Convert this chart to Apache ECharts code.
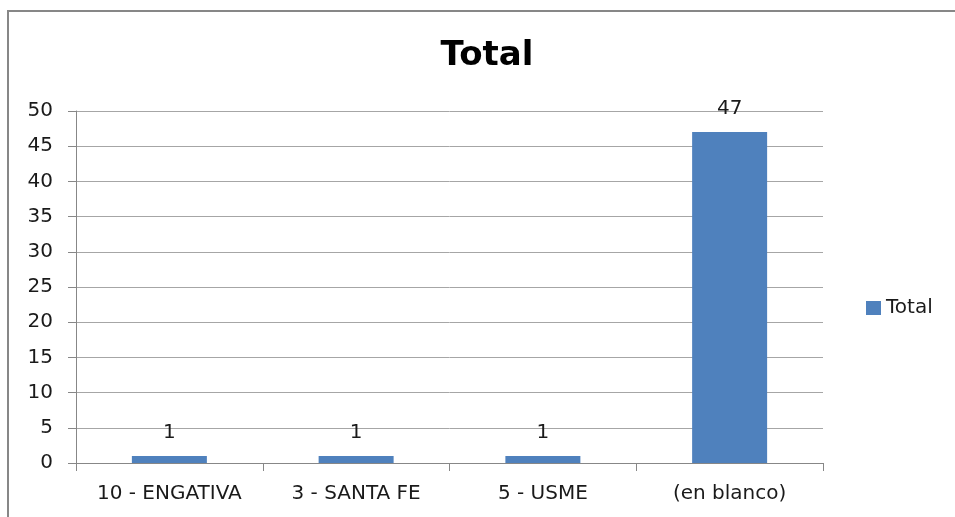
<!DOCTYPE html>
<html>
<head>
<meta charset="utf-8">
<script src="https://cdn.jsdelivr.net/npm/echarts@6/dist/echarts.min.js"></script>
<style>
html,body{margin:0;padding:0;background:#fff;}
#c{width:955px;height:517px;}
</style>
</head>
<body>
<div id="c"></div>
<script>
var categories = ['10 - ENGATIVA', '3 - SANTA FE', '5 - USME', '(en blanco)'];
var totalValues = [1, 1, 1, 47];
var yTicks = { min: 0, max: 50, interval: 5 };
var seriesName = 'Total';
var titleText = 'Total';

var chart = echarts.init(document.getElementById('c'));
var font = 'DejaVu Sans';
chart.setOption({
  animation: false,
  backgroundColor: '#fff',
  graphic: [{
    type: 'rect',
    shape: { x: 8, y: 11, width: 1000, height: 600 },
    style: { fill: 'none', stroke: '#878787', lineWidth: 2 },
    silent: true
  }],
  title: {
    text: titleText,
    left: 482,
    textAlign: 'center',
    top: 34,
    textStyle: { fontFamily: font, fontWeight: 'bold', fontSize: 34, color: '#000' }
  },
  legend: {
    data: [seriesName],
    orient: 'vertical',
    left: 861,
    top: 293,
    icon: 'rect',
    itemWidth: 15,
    itemHeight: 14,
    itemGap: 6,
    textStyle: { fontFamily: font, fontSize: 20, color: '#1a1a1a' }
  },
  grid: { left: 76, right: 132, top: 111, bottom: 54, containLabel: false },
  xAxis: {
    type: 'category',
    data: categories,
    boundaryGap: true,
    axisLine: { show: true, lineStyle: { color: '#878787', width: 1 } },
    axisTick: { show: true, length: 8, interval: 0, alignWithLabel: false, lineStyle: { color: '#878787' } },
    axisLabel: { interval: 0, margin: 21, fontFamily: font, fontSize: 20, color: '#1a1a1a' },
    splitLine: { show: false }
  },
  yAxis: {
    type: 'value',
    min: yTicks.min,
    max: yTicks.max,
    interval: yTicks.interval,
    axisLine: { show: true, lineStyle: { color: '#878787', width: 1 } },
    axisTick: { show: true, length: 8, lineStyle: { color: '#878787' } },
    axisLabel: { margin: 23, fontFamily: font, fontSize: 20, color: '#1a1a1a' },
    splitLine: { show: true, lineStyle: { color: '#A6A6A6', width: 1 } }
  },
  series: [{
    name: seriesName,
    type: 'bar',
    data: totalValues,
    barWidth: 75,
    itemStyle: { color: '#4F81BD' },
    label: {
      show: true,
      position: 'top',
      distance: 13,
      fontFamily: font,
      fontSize: 20,
      color: '#1a1a1a'
    }
  }]
});
</script>
</body>
</html>
